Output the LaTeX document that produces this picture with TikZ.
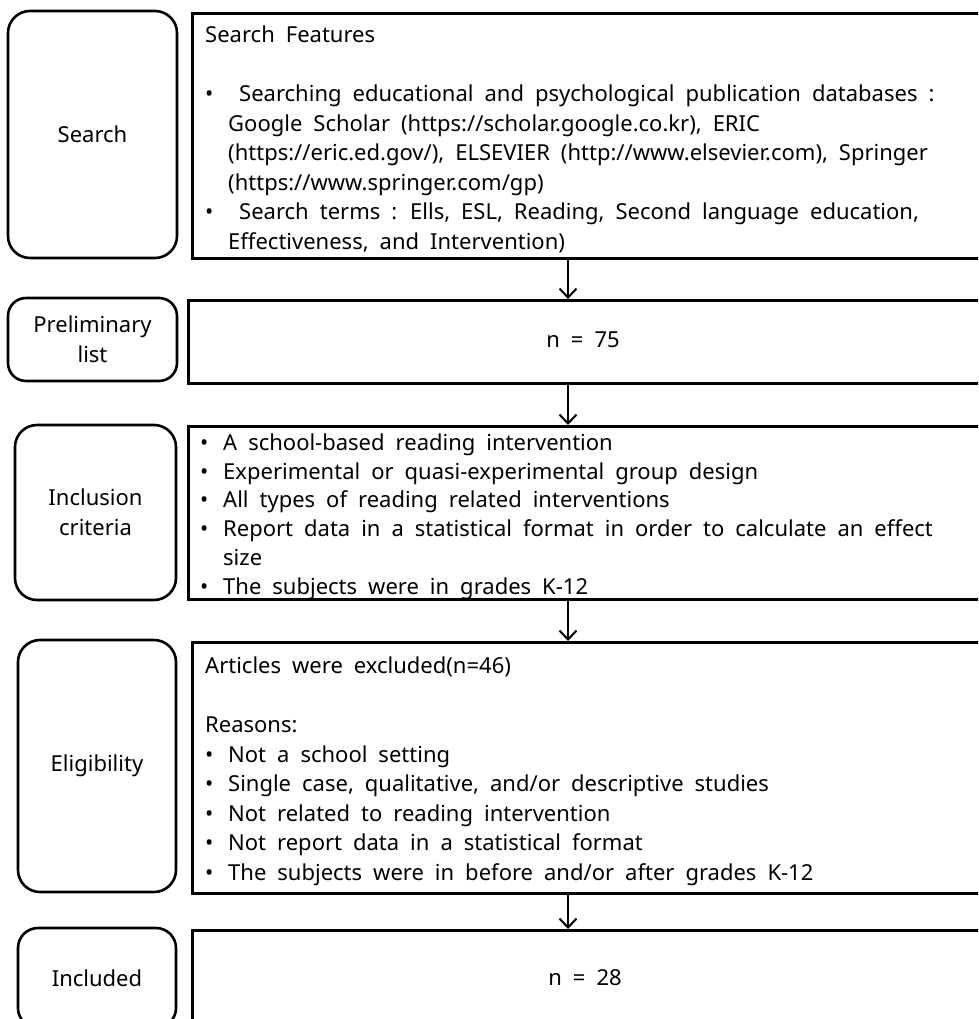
\documentclass[tikz,border=0pt]{standalone}
\usepackage{fontspec}
\setmainfont{Noto Sans}
\usetikzlibrary{arrows.meta}

\newcommand{\flowfont}{\fontsize{22}{29.6}\selectfont\spaceskip=11pt plus 2pt minus 1pt}
\newcommand{\itemdot}{\makebox[23pt][l]{\textbullet}}
\newcommand{\indentline}{\hspace*{23pt}}

\tikzset{
  stage/.style={draw, line width=2.6pt, rounded corners=22pt, inner sep=0pt, align=center},
  panel/.style={draw, line width=2.6pt, inner sep=0pt, anchor=north west},
  blocktext/.style={inner sep=0pt, anchor=north west, align=left},
  flow/.style={line width=2pt, -{Straight Barb[length=9pt,width=17pt,line width=2pt]}},
}

\begin{document}
\begin{tikzpicture}[x=1pt,y=1pt,font=\flowfont]
  \useasboundingbox (0,0) rectangle (978,-1019);
  \clip (0,0) rectangle (978,-1019);

  % Draw the stage labels on the left
  \node[stage,minimum width=169pt,minimum height=247pt] (search) at (92.5,-134.5) {Search};
  \node[stage,minimum width=169pt,minimum height=83pt,rounded corners=18pt] (prelim) at (92.5,-339.5) {Preliminary\\list};
  \node[stage,minimum width=161pt,minimum height=175pt] (incl) at (95.5,-512.5) {Inclusion\\criteria};
  \node[stage,minimum width=158pt,minimum height=252pt] (elig) at (97,-766) {Eligibility};
  \node[stage,minimum width=158pt,minimum height=100pt,rounded corners=20pt] (done) at (97,-978) {Included};

  % Draw the panels on the right
  \node[panel,minimum width=800pt,minimum height=245pt] (searchbox) at (191,-12) {};
  \node[panel,minimum width=800pt,minimum height=83pt] (prelimbox) at (187,-299) {};
  \node[panel,minimum width=800pt,minimum height=173pt] (inclbox) at (187,-425) {};
  \node[panel,minimum width=800pt,minimum height=251pt] (eligbox) at (191,-641) {};
  \node[panel,minimum width=800pt,minimum height=120pt] (donebox) at (191,-929) {};

  % Texts inside the panels
  \node[blocktext] (searchtext) at (205,-25.3) {Search Features\\[29.6pt]
    \itemdot\ Searching educational and psychological publication databases :\\
    \indentline Google Scholar (https://scholar.google.co.kr), ERIC\\
    \indentline (https://eric.ed.gov/), ELSEVIER (http://www.elsevier.com), Springer\\
    \indentline (https://www.springer.com/gp)\\
    \itemdot\ Search terms : Ells, ESL, Reading, Second language education,\\
    \indentline Effectiveness, and Intervention)};
  \node (prelimn) at (583,-340) {n = 75};
  \node[blocktext] (incltext) at (200,-433.3) {\itemdot A school-based reading intervention\\[-0.8pt]
    \itemdot Experimental or quasi-experimental group design\\[-0.8pt]
    \itemdot All types of reading related interventions\\[-0.8pt]
    \itemdot Report data in a statistical format in order to calculate an effect\\[-0.8pt]
    \indentline size\\[-0.8pt]
    \itemdot The subjects were in grades K-12};
  \node[blocktext] (eligtext) at (205,-656.3) {Articles were excluded(n=46)\\[29.6pt]
    Reasons:\\
    \itemdot Not a school setting\\
    \itemdot Single case, qualitative, and/or descriptive studies\\
    \itemdot Not related to reading intervention\\
    \itemdot Not report data in a statistical format\\
    \itemdot The subjects were in before and/or after grades K-12};
  \node (donen) at (585,-978) {n = 28};

  % Draw the arrows between the panels
  \coordinate (spine) at (568,0);
  \draw[flow] (searchbox.south -| spine) -- (prelimbox.north -| spine);
  \draw[flow] (prelimbox.south -| spine) -- (inclbox.north -| spine);
  \draw[flow] (inclbox.south -| spine) -- (eligbox.north -| spine);
  \draw[flow] (eligbox.south -| spine) -- (donebox.north -| spine);
\end{tikzpicture}
\end{document}
